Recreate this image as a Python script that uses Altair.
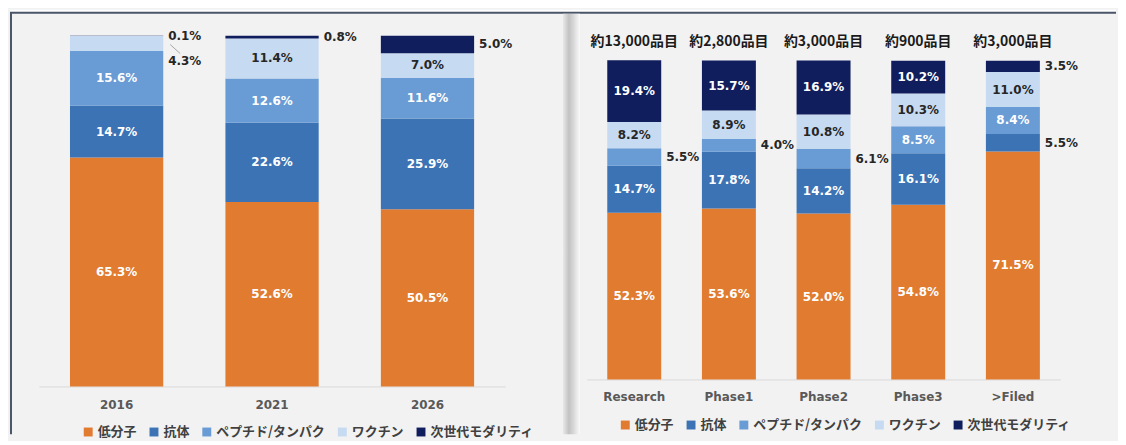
import altair as alt
import pandas as pd

series = ["低分子", "抗体", "ペプチド/タンパク", "ワクチン", "次世代モダリティ"]
series_colors = ["#E07B30", "#3C73B5", "#699BD4", "#C6DAF1", "#101E5E"]

years = ["2016", "2021", "2026"]
y_small = [65.3, 52.6, 50.5]
y_antibody = [14.7, 22.6, 25.9]
y_peptide = [15.6, 12.6, 11.6]
y_vaccine = [4.3, 11.4, 7.0]
y_next = [0.1, 0.8, 5.0]

phases = ["Research", "Phase1", "Phase2", "Phase3", ">Filed"]
phase_counts = ["約13,000品目", "約2,800品目", "約3,000品目", "約900品目", "約3,000品目"]
p_small = [52.3, 53.6, 52.0, 54.8, 71.5]
p_antibody = [14.7, 17.8, 14.2, 16.1, 5.5]
p_peptide = [5.5, 4.0, 6.1, 8.5, 8.4]
p_vaccine = [8.2, 8.9, 10.8, 10.3, 11.0]
p_next = [19.4, 15.7, 16.9, 10.2, 3.5]

LEFT_OUT = {("2016", "ワクチン"), ("2016", "次世代モダリティ"),
            ("2021", "次世代モダリティ"), ("2026", "次世代モダリティ")}
RIGHT_OUT = {("Research", "ペプチド/タンパク"), ("Phase1", "ペプチド/タンパク"),
             ("Phase2", "ペプチド/タンパク"), (">Filed", "抗体"), (">Filed", "次世代モダリティ")}
LABEL_SHIFT = {("2016", "ワクチン"): -5.1}

NUM_FONT = "DejaVu Sans"
JP_FONT = "Noto Sans CJK JP"


def build(cats, cols, outside):
    rows = []
    for i, c in enumerate(cats):
        base = 0.0
        for j, s in enumerate(series):
            v = cols[j][i]
            if (c, s) in outside:
                pos = "out"
            elif s == "ワクチン":
                pos = "in_dark"
            else:
                pos = "in_white"
            rows.append(dict(cat=c, series=s, order=j, lower=base, upper=base + v,
                             mid=base + v / 2,
                             ly=base + v / 2 + LABEL_SHIFT.get((c, s), 0.0),
                             leader=(c, s) in LABEL_SHIFT,
                             label=f"{v:.1f}%", pos=pos))
            base += v
    return pd.DataFrame(rows)


one = pd.DataFrame({"d": [0]})


def frame_layers(xenc, ys):
    white = alt.Chart(one).mark_rect(color="white").encode(
        x=alt.value(-29), x2=alt.value(1081), y=alt.value(-26), y2=alt.value(-24))
    top = alt.Chart(one).mark_rule(color="#4a5568", strokeWidth=2).encode(
        x=alt.value(-29), x2=alt.value(1081), y=alt.value(-23))
    left = alt.Chart(one).mark_rule(color="#4a5568", strokeWidth=2).encode(
        x=alt.value(-28), y=alt.value(-23), y2=alt.value(400))
    return [white, top, left]


def divider_layers(xenc, ys):
    grad = alt.LinearGradient(
        gradient="linear", x1=0, x2=1, y1=0, y2=0,
        stops=[alt.GradientStop(color="#e8e8e8", offset=0),
               alt.GradientStop(color="#c2c2c2", offset=0.35),
               alt.GradientStop(color="#d6d6d6", offset=0.6),
               alt.GradientStop(color="#fafafa", offset=1)])
    return [alt.Chart(one).mark_rect(color=grad).encode(
        x=alt.value(-24), x2=alt.value(-7), y=alt.value(-22), y2=alt.value(400))]


def panel(df, cats, width, height, ymax, pin, pout, label_pad, lx, ly, before, after):
    xs = alt.Scale(domain=cats, paddingInner=pin, paddingOuter=pout)
    ys = alt.Scale(domain=[0, ymax], nice=False, zero=True)
    axis = alt.Axis(title=None, labelAngle=0, ticks=False, labelPadding=label_pad,
                    domainColor="#d9d9d9", domainWidth=1, labelFont=NUM_FONT,
                    labelFontWeight="bold", labelFontSize=12, labelColor="#595959",
                    grid=False)
    xenc = alt.X("cat:N", scale=xs, axis=axis)
    bars = alt.Chart(df).mark_bar().encode(
        x=xenc,
        y=alt.Y("lower:Q", scale=ys, axis=None),
        y2="upper:Q",
        color=alt.Color("series:N", scale=alt.Scale(domain=series, range=series_colors),
                        legend=alt.Legend(orient="none", legendX=lx, legendY=ly,
                                          direction="horizontal", columns=5, title=None,
                                          symbolType="square", symbolSize=80,
                                          symbolStrokeWidth=0, labelFont=JP_FONT,
                                          labelFontWeight="bold", labelFontSize=13,
                                          labelColor="#404040", columnPadding=10,
                                          labelOffset=3)),
        order=alt.Order("order:Q"),
    )
    txt_common = dict(font=NUM_FONT, fontWeight="bold", fontSize=12, baseline="middle")
    yl = alt.Y("ly:Q", scale=ys, axis=None)
    xend = alt.X("cat:N", scale=xs, axis=axis, bandPosition=1)
    in_white = alt.Chart(df).transform_filter(alt.datum.pos == "in_white").mark_text(
        color="white", **txt_common).encode(x=xenc, y=yl, text="label:N")
    in_dark = alt.Chart(df).transform_filter(alt.datum.pos == "in_dark").mark_text(
        color="#262626", **txt_common).encode(x=xenc, y=yl, text="label:N")
    out = alt.Chart(df).transform_filter(alt.datum.pos == "out").mark_text(
        color="#262626", align="left", dx=5, **txt_common).encode(
        x=xend, y=yl, text="label:N")
    leader = alt.Chart(df).transform_filter(alt.datum.leader).mark_point(
        shape="M 0.7 0.1 L 1.7 1.0", filled=False, size=400, stroke="#a6a6a6",
        strokeWidth=1, opacity=1).encode(x=xend, y=alt.Y("mid:Q", scale=ys, axis=None))
    layers = []
    for f in before:
        layers += f(xenc, ys)
    layers += [bars, in_white, in_dark, out, leader]
    for f in after:
        layers += f(xenc, ys)
    return alt.layer(*layers).properties(width=width, height=height)


left_df = build(years, [y_small, y_antibody, y_peptide, y_vaccine, y_next], LEFT_OUT)
right_df = build(phases, [p_small, p_antibody, p_peptide, p_vaccine, p_next], RIGHT_OUT)
counts_df = pd.DataFrame({"cat": phases, "count": phase_counts})


def counts_layers(xenc, ys):
    return [alt.Chart(counts_df).mark_text(font=JP_FONT, fontWeight="bold", fontSize=14,
                                           color="#1a1a1a", dy=-19, baseline="middle").encode(
        x=xenc, y=alt.Y(datum=100, scale=ys, axis=None), text="count:N")]


left = panel(left_df, years, 468, 352, 100, 0.4, 0.2, 13, 43, 391, [frame_layers], [])
right = panel(right_df, phases, 475, 345, 107.8, 0.43, 0.215, 12, 32, 384,
              [divider_layers], [counts_layers])

chart = alt.hconcat(left, right, spacing=82, bounds="flush").resolve_scale(
    x="independent", y="independent", color="independent"
).resolve_legend(color="independent").properties(
    padding={"left": 0, "top": 0, "right": 0, "bottom": 0}
).configure(background="#f2f2f2").configure_view(stroke="transparent")

chart.save("out.html", embed_options={"renderer": "svg", "actions": False})
